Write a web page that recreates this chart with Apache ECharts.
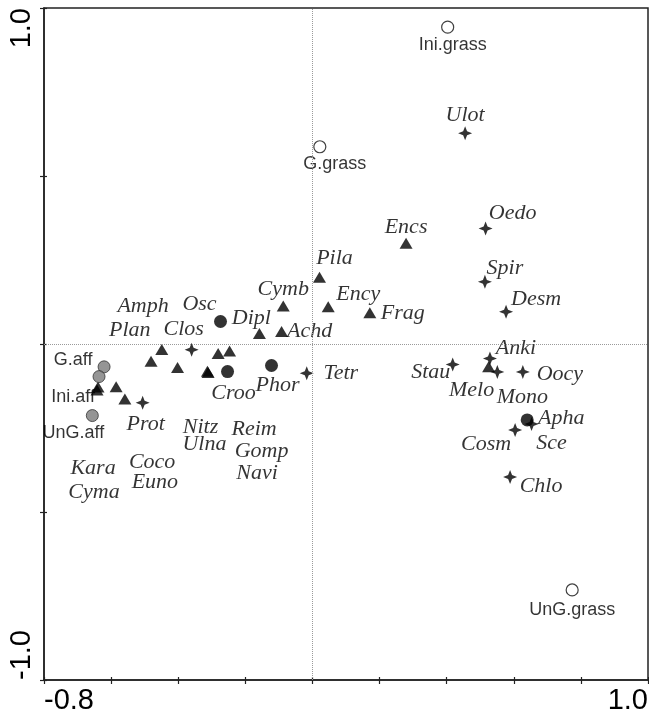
<!DOCTYPE html>
<html>
<head>
<meta charset="utf-8">
<script src="https://cdn.jsdelivr.net/npm/echarts@6/dist/echarts.min.js"></script>
<style>
  html, body { margin: 0; padding: 0; background: #fff; }
  #chart { width: 649px; height: 714px; }
</style>
</head>
<body>
<div id="chart"></div>
<script>
// Ordination scores on axes 1 and 2: algal taxa and sampling sites

const speciesNames = [
  'Pila', 'Encs', 'Cymb', 'Ency', 'Frag', 'Dipl', 'Achd', 'Amph', 'Plan', 'Nitz',
  'Ulna', 'Navi', 'Reim', 'Gomp', 'Coco', 'Euno', 'Kara', 'Cyma', 'Melo',
  'Clos', 'Prot', 'Tetr', 'Ulot', 'Oedo', 'Spir', 'Desm', 'Anki', 'Stau', 'Mono',
  'Oocy', 'Sce', 'Cosm', 'Chlo',
  'Osc', 'Croo', 'Phor', 'Apha'
];
const speciesX = [
  0.021, 0.279, -0.087, 0.047, 0.171, -0.158, -0.092, -0.481, -0.449, -0.402,
  -0.313, -0.311, -0.281, -0.247, -0.585, -0.559, -0.639, -0.642, 0.525,
  -0.360, -0.506, -0.017, 0.455, 0.516, 0.514, 0.577, 0.529, 0.418, 0.551,
  0.627, 0.653, 0.604, 0.589,
  -0.274, -0.253, -0.122, 0.640
];
const speciesY = [
  0.199, 0.300, 0.113, 0.111, 0.093, 0.031, 0.037, -0.051, -0.016, -0.070,
  -0.081, -0.085, -0.028, -0.021, -0.127, -0.164, -0.128, -0.137, -0.068,
  -0.017, -0.175, -0.087, 0.627, 0.344, 0.185, 0.096, -0.043, -0.061, -0.083,
  -0.083, -0.238, -0.256, -0.396,
  0.067, -0.082, -0.064, -0.226
];
// taxon group: tri = diatoms, star = green algae, dot = cyanobacteria
const speciesGroup = [
  'tri', 'tri', 'tri', 'tri', 'tri', 'tri', 'tri', 'tri', 'tri', 'tri',
  'tri', 'tri', 'tri', 'tri', 'tri', 'tri', 'tri', 'tri', 'tri',
  'star', 'star', 'star', 'star', 'star', 'star', 'star', 'star', 'star', 'star',
  'star', 'star', 'star', 'star',
  'dot', 'dot', 'dot', 'dot'
];

const siteNames = ['Ini.grass', 'G.grass', 'UnG.grass', 'G.aff', 'Ini.aff', 'UnG.aff'];
const siteX = [0.403, 0.022, 0.774, -0.621, -0.636, -0.656];
const siteY = [0.943, 0.587, -0.732, -0.068, -0.097, -0.213];
const siteGroup = ['grass', 'grass', 'grass', 'aff', 'aff', 'aff'];

const xTickLabels = [-0.8, 1.0];
const yTickLabels = [-1.0, 1.0];

// Label placement: pixel shift of each name from its marker centre
const labelShift = {
  Pila: [15, -19], Encs: [0, -16], Cymb: [0, -17], Ency: [30, -12], Frag: [33, 0],
  Dipl: [-8, -15], Achd: [28, 0], Amph: [-8, -55], Plan: [-32, -19], Nitz: [23, 60],
  Ulna: [-3, 73], Navi: [49, 101], Reim: [36, 76], Gomp: [32, 100], Coco: [36, 76],
  Euno: [30, 83], Kara: [-5, 81], Cyma: [-3, 102], Melo: [-17, 23],
  Clos: [-8, -20], Prot: [3, 21], Tetr: [34, 0], Ulot: [0, -18], Oedo: [27, -15],
  Spir: [20, -14], Desm: [30, -13], Anki: [26, -10], Stau: [-22, 8], Mono: [25, 25],
  Oocy: [37, 2], Sce: [20, 19], Cosm: [-29, 14], Chlo: [31, 9],
  Osc: [-21, -17], Croo: [6, 22], Phor: [6, 20], Apha: [34, -2],
  'Ini.grass': [5, 18], 'G.grass': [15, 17], 'UnG.grass': [0, 20],
  'G.aff': [-31, -7], 'Ini.aff': [-26, 20], 'UnG.aff': [-19, 17]
};

const STAR = 'path://M0,-10 L2.8,-2.8 L10,0 L2.8,2.8 L0,10 L-2.8,2.8 L-10,0 L-2.8,-2.8 Z';

const taxonLabel = {
  show: true, position: 'inside', formatter: '{b}',
  fontFamily: 'Liberation Serif', fontStyle: 'italic', fontSize: 22,
  color: '#000', textBorderWidth: 0
};
const siteLabel = {
  show: true, position: 'inside', formatter: '{b}',
  fontFamily: 'Liberation Sans', fontSize: 18,
  color: '#000', textBorderWidth: 0
};

function taxonSeries(group, symbol, size) {
  const data = [];
  speciesNames.forEach(function (n, i) {
    if (speciesGroup[i] === group) {
      data.push({ name: n, value: [speciesX[i], speciesY[i]], label: { offset: labelShift[n] } });
    }
  });
  return {
    type: 'scatter', name: group, symbol: symbol, symbolSize: size, data: data,
    itemStyle: { color: '#000' }, label: taxonLabel, silent: true, z: 3
  };
}

function siteSeries(group, style, size) {
  const data = [];
  siteNames.forEach(function (n, i) {
    if (siteGroup[i] === group) {
      data.push({ name: n, value: [siteX[i], siteY[i]], label: { offset: labelShift[n] } });
    }
  });
  return {
    type: 'scatter', name: group, symbol: 'circle', symbolSize: size, data: data,
    itemStyle: style, label: siteLabel, silent: true, z: 4
  };
}

const tickFont = { fontFamily: 'Liberation Sans', fontSize: 29, color: '#000' };

const chart = echarts.init(document.getElementById('chart'), null, { renderer: 'canvas' });
chart.setOption({
  animation: false,
  backgroundColor: '#fff',
  grid: {
    left: 44, right: 1, top: 8, bottom: 34,
    show: true, borderColor: '#222', borderWidth: 1.5,
    containLabel: false, outerBoundsMode: 'none'
  },
  xAxis: [
    {
      type: 'value', min: -0.8, max: 1.0, interval: 0.2,
      axisLine: { show: true, onZero: false, lineStyle: { color: '#222', width: 1.5 } },
      axisTick: { show: true, length: 4, lineStyle: { color: '#222', width: 1.2 } },
      splitLine: { show: false },
      axisLabel: Object.assign({
        customValues: xTickLabels, margin: 6,
        alignMinLabel: 'left', alignMaxLabel: 'right',
        formatter: function (v) { return v.toFixed(1); }
      }, tickFont)
    },
    {
      type: 'value', min: -0.8, max: 1.0, interval: 0.2, position: 'bottom',
      axisLine: { show: false, onZero: false },
      axisTick: { show: true, inside: true, length: 3, lineStyle: { color: '#222', width: 1.2 } },
      axisLabel: { show: false }, splitLine: { show: false }
    }
  ],
  yAxis: [
    {
      type: 'value', min: -1.0, max: 1.0, interval: 0.5,
      axisLine: { show: true, onZero: false, lineStyle: { color: '#222', width: 1.5 } },
      axisTick: { show: true, length: 4, lineStyle: { color: '#222', width: 1.2 } },
      splitLine: { show: false },
      axisLabel: Object.assign({
        customValues: yTickLabels, rotate: 90, margin: 8,
        alignMinLabel: 'left', alignMaxLabel: 'right',
        formatter: function (v) { return v.toFixed(1); }
      }, tickFont)
    },
    {
      type: 'value', min: -1.0, max: 1.0, interval: 0.5, position: 'left',
      axisLine: { show: false, onZero: false },
      axisTick: { show: true, inside: true, length: 3, lineStyle: { color: '#222', width: 1.2 } },
      axisLabel: { show: false }, splitLine: { show: false }
    }
  ],
  series: [
    {
      // dotted origin lines
      type: 'scatter', data: [], silent: true, z: 1,
      markLine: {
        silent: true, symbol: 'none', animation: false,
        label: { show: false },
        lineStyle: { type: 'dotted', color: '#9a9a9a', width: 1 },
        data: [{ xAxis: 0 }, { yAxis: 0 }]
      }
    },
    taxonSeries('tri', 'triangle', [13, 11]),
    taxonSeries('star', STAR, 14),
    taxonSeries('dot', 'circle', 13),
    siteSeries('grass', { color: '#fff', borderColor: '#111', borderWidth: 1.2 }, 12),
    siteSeries('aff', { color: '#7b7b7b', borderColor: '#333', borderWidth: 1 }, 12)
  ]
});
</script>
</body>
</html>
